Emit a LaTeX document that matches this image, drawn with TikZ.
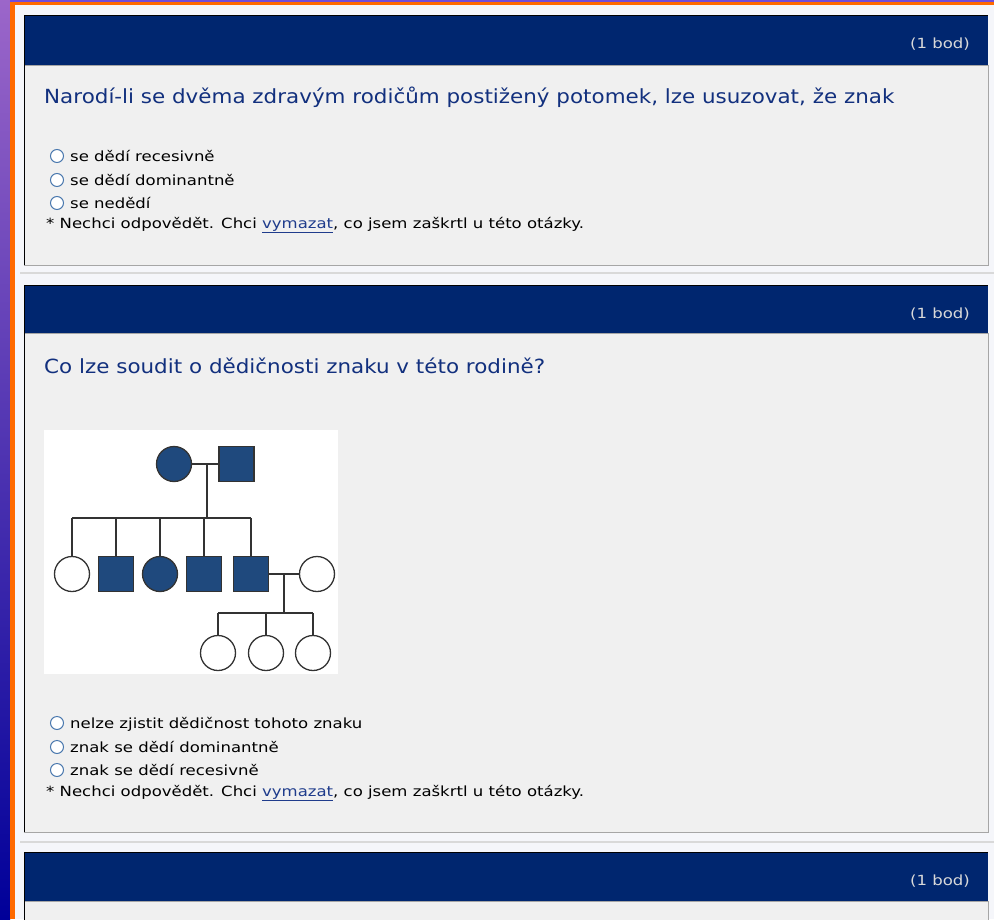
\documentclass[tikz,border=0pt]{standalone}
\usepackage{fontspec}
\setmainfont{DejaVu Sans}
\newfontfamily\wideopt[FakeStretch=1.18]{DejaVu Sans}
\newfontfamily\widetitle[FakeStretch=1.10]{DejaVu Sans}
\definecolor{pagebg}{HTML}{F5F6FA}
\definecolor{navy}{HTML}{00266F}
\definecolor{bodybg}{HTML}{F0F0F0}
\definecolor{titleblue}{HTML}{12307E}
\definecolor{linkblue}{HTML}{1F3C8C}
\definecolor{pedblue}{HTML}{1F497D}
\definecolor{radioblue}{HTML}{4A78AE}
\definecolor{orangebar}{HTML}{FF6A00}
\tikzset{
  qtitle/.style={anchor=base west, inner sep=0pt, text=titleblue, font=\widetitle\fontsize{19.5}{22}\selectfont},
  opt/.style={anchor=base west, inner sep=0pt, font=\wideopt\fontsize{14}{16}\selectfont},
  pts/.style={anchor=base east, inner sep=0pt, text=black!15, font=\wideopt\fontsize{14}{16}\selectfont},
  radio/.style={circle, draw=radioblue, fill=white, line width=1pt, minimum size=13pt, inner sep=0pt},
  ped/.style={draw=black!80, line width=1.3pt},
  open/.style={ped, circle, fill=white, minimum size=35pt, inner sep=0pt},
  affc/.style={ped, circle, fill=pedblue, minimum size=35pt, inner sep=0pt},
  affs/.style={ped, rectangle, fill=pedblue, minimum size=35pt, inner sep=0pt}
}
\newcommand{\link}[1]{\textcolor{linkblue}{\underline{#1}}}
\begin{document}
\begin{tikzpicture}[x=1pt,y=-1pt]
\useasboundingbox (0,0) rectangle (994,919);
% page
\fill[pagebg] (0,0) rectangle (994,919);
\shade[top color=blue!30!violet!60, bottom color=blue!60!black] (0,0) rectangle (10,919);
\fill[orangebar] (10,0) rectangle (15,919);
\fill[blue!60!violet!70] (10,0) rectangle (994,1.5);
\fill[orangebar] (10,1.5) rectangle (994,5);
% question 1
\filldraw[draw=black!35, fill=bodybg] (24,65) rectangle (988,265);
\fill[navy] (24,15) rectangle (988,65);
\draw[black] (24,265) -- (24,15) -- (988,15);
\node[pts] (pts1) at (970,48) {(1 bod)};
\node[qtitle] (q1) at (44,103) {Narodí-li se dvěma zdravým rodičům postižený potomek, lze usuzovat, že znak};
\node[radio] (r11) at (57,156) {};
\node[opt] (a11) at (70,161) {se dědí recesivně};
\node[radio] (r12) at (57,180) {};
\node[opt] (a12) at (70,185) {se dědí dominantně};
\node[radio] (r13) at (57,203) {};
\node[opt] (a13) at (70,208) {se nedědí};
\node[opt] (n1) at (46,228) {* Nechci odpovědět. Chci \link{vymazat}, co jsem zaškrtl u této otázky.};
\draw[black!15, line width=2pt] (20,273) -- (994,273);
% question 2
\filldraw[draw=black!35, fill=bodybg] (24,333) rectangle (988,832);
\fill[navy] (24,285) rectangle (988,333);
\draw[black] (24,832) -- (24,285) -- (988,285);
\node[pts] (pts2) at (970,318) {(1 bod)};
\node[qtitle] (q2) at (44,373) {Co lze soudit o dědičnosti znaku v této rodině?};
% pedigree
\fill[white] (44,430) rectangle (338,674);
\node[affc] (mom) at (174,464) {};
\node[affs] (dad) at (236.5,464) {};
\coordinate (m1) at (207,464);
\coordinate (s1) at (207,518);
\node[open] (c1) at (72,574) {};
\node[affs] (c2) at (116,574) {};
\node[affc] (c3) at (160,574) {};
\node[affs] (c4) at (204,574) {};
\node[affs] (c5) at (251,574) {};
\node[open] (sp) at (317,574) {};
\coordinate (m2) at (284,574);
\coordinate (s2) at (284,613);
\node[open] (g1) at (218,653) {};
\node[open] (g2) at (266,653) {};
\node[open] (g3) at (313,653) {};
\draw[ped] (mom) -- (dad);
\draw[ped] (m1) -- (s1);
\draw[ped] (c1.north |- s1) -- (c5.north |- s1);
\draw[ped] (c1.north) -- (c1.north |- s1);
\draw[ped] (c2.north) -- (c2.north |- s1);
\draw[ped] (c3.north) -- (c3.north |- s1);
\draw[ped] (c4.north) -- (c4.north |- s1);
\draw[ped] (c5.north) -- (c5.north |- s1);
\draw[ped] (c5) -- (sp);
\draw[ped] (m2) -- (s2);
\draw[ped] (g1.north |- s2) -- (g3.north |- s2);
\draw[ped] (g1.north) -- (g1.north |- s2);
\draw[ped] (g2.north) -- (g2.north |- s2);
\draw[ped] (g3.north) -- (g3.north |- s2);
\node[radio] (r21) at (57,723) {};
\node[opt] (a21) at (70,728) {nelze zjistit dědičnost tohoto znaku};
\node[radio] (r22) at (57,747) {};
\node[opt] (a22) at (70,752) {znak se dědí dominantně};
\node[radio] (r23) at (57,770) {};
\node[opt] (a23) at (70,775) {znak se dědí recesivně};
\node[opt] (n2) at (46,796) {* Nechci odpovědět. Chci \link{vymazat}, co jsem zaškrtl u této otázky.};
\draw[black!15, line width=2pt] (20,842) -- (994,842);
% question 3
\filldraw[draw=black!35, fill=bodybg] (24,901) rectangle (988,930);
\fill[navy] (24,852) rectangle (988,901);
\draw[black] (24,930) -- (24,852) -- (988,852);
\node[pts] (pts3) at (970,885) {(1 bod)};
\end{tikzpicture}
\end{document}
